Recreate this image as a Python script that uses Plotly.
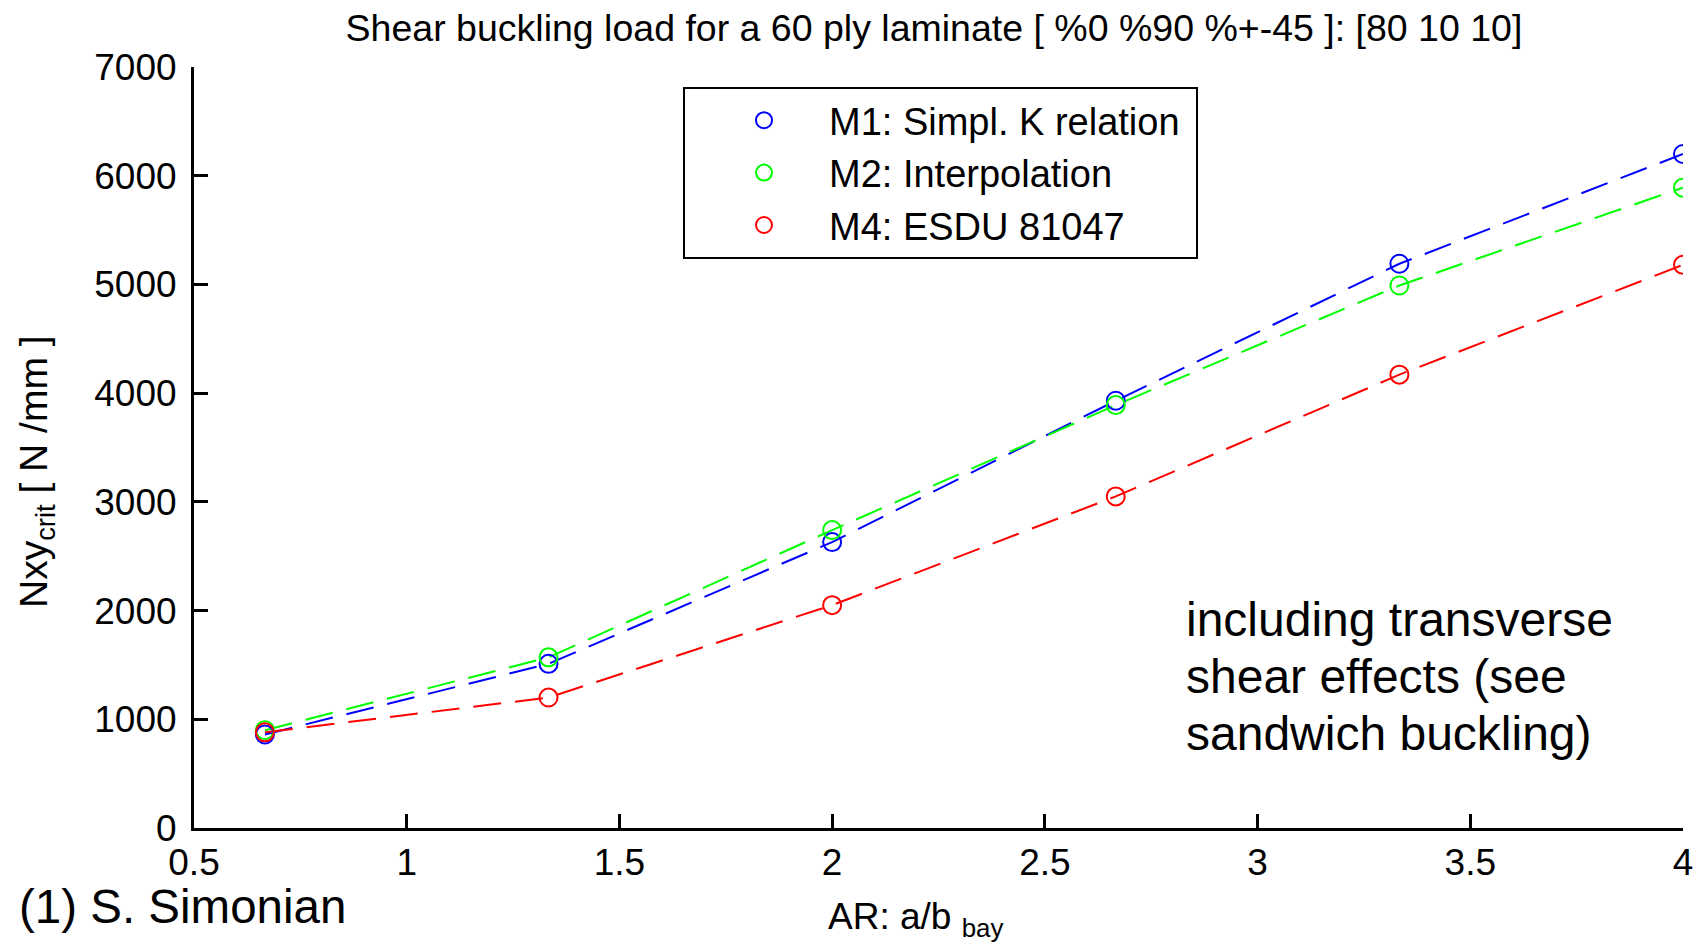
import plotly.graph_objects as go

# ---- data ----
ar = [2/3, 4/3, 2.0, 8/3, 10/3, 4.0]
m1_simpl_k = [860, 1510, 2630, 3930, 5190, 6200]
m2_interp = [900, 1570, 2740, 3890, 4990, 5890]
m4_esdu = [880, 1200, 2050, 3050, 4170, 5180]

series_names = ["M1: Simpl. K relation\u00a0", "M2: Interpolation", "M4: ESDU 81047"]
series_vals = [m1_simpl_k, m2_interp, m4_esdu]
series_cols = ["#0000ff", "#00ff00", "#ff0000"]

x_ticks = [0.5, 1, 1.5, 2, 2.5, 3, 3.5, 4]
y_ticks = [0, 1000, 2000, 3000, 4000, 5000, 6000, 7000]

FONT = "Liberation Sans, Arial, sans-serif"

fig = go.Figure()

# dashed lines (no legend)
for name, vals, col in zip(series_names, series_vals, series_cols):
    fig.add_trace(go.Scatter(
        x=ar, y=vals, mode="lines", showlegend=False, hoverinfo="skip",
        line=dict(color=col, width=2, dash="28px,14px"),
    ))

# markers (legend)
for i, (name, vals, col) in enumerate(zip(series_names, series_vals, series_cols)):
    fig.add_trace(go.Scatter(
        x=ar, y=vals, mode="markers", name=name, legendgroup=f"g{i}",
        marker=dict(symbol="circle-open", size=18, color=col, line=dict(width=2, color=col)),
    ))

# The page body has an 8px margin: work in window coordinates and subtract it.
OFF = 8
W, H = 1702 - OFF, 947 - OFF
PL, PR, PT, PB = 194, 1683, 67, 828          # plot area in window coords
L, T = PL - OFF, PT - OFF
R, B = W - (PR - OFF), H - (PB - OFF)
pw, ph = PR - PL, PB - PT

def px(xw):
    return (xw - PL) / pw

def py(yw):
    return (PB - yw) / ph

fig.update_layout(
    width=W, height=H,
    margin=dict(l=L, r=R, t=T, b=B, autoexpand=False),
    paper_bgcolor="white", plot_bgcolor="white",
    font=dict(family=FONT, size=37, color="black"),
    title=dict(
        text="Shear buckling load for a 60 ply laminate [ %0 %90 %+-45 ]: [80 10 10]",
        x=(934 - OFF) / W, xanchor="center", y=1 - (28 - OFF) / H, yanchor="middle", yref="container",
        font=dict(size=37.5, family=FONT, color="black"),
    ),
    xaxis=dict(
        range=[0.5, 4], tickvals=x_ticks, ticktext=[f"{v:g}" for v in x_ticks],
        showgrid=False, zeroline=False, showline=True, linecolor="black", linewidth=3,
        ticks="inside", ticklen=14, tickwidth=3, tickcolor="black",
        tickfont=dict(size=37, family=FONT), ticklabelstandoff=0, mirror=False,
    ),
    yaxis=dict(
        range=[0, 7000], tickvals=y_ticks, ticktext=[str(v) for v in y_ticks],
        showgrid=False, zeroline=False, showline=True, linecolor="black", linewidth=3,
        ticks="inside", ticklen=14, tickwidth=3, tickcolor="black",
        tickfont=dict(size=37, family=FONT), ticklabelstandoff=7, mirror=False,
    ),
    legend=dict(
        x=px(683), y=py(87), xanchor="left", yanchor="top",
        bgcolor="white", bordercolor="black", borderwidth=2,
        font=dict(size=38, family=FONT, color="black"),
        itemwidth=120, indentation=14, tracegroupgap=0,
    ),
    showlegend=True,
)

annos = [
    dict(text="AR: a/b <sub>bay</sub>", x=px(915), y=py(919), xanchor="center", yanchor="middle",
         font=dict(size=37)),
    dict(text="Nxy<sub>crit</sub> [ N /mm ]", x=px(36), y=py(472), xanchor="center", yanchor="middle",
         textangle=-90, font=dict(size=39)),
    dict(text="(1) S. Simonian", x=px(17), y=py(906), xanchor="left", yanchor="middle",
         font=dict(size=47.5)),
    dict(text="including transverse", x=px(1184), y=py(619), xanchor="left", yanchor="middle",
         font=dict(size=48)),
    dict(text="shear effects (see", x=px(1184), y=py(676), xanchor="left", yanchor="middle",
         font=dict(size=48)),
    dict(text="sandwich buckling)", x=px(1184), y=py(733), xanchor="left", yanchor="middle",
         font=dict(size=48)),
]
for a in annos:
    a.update(xref="paper", yref="paper", showarrow=False)
    a["font"].update(family=FONT, color="black")
    fig.add_annotation(**a)

fig.write_html("out.html")
